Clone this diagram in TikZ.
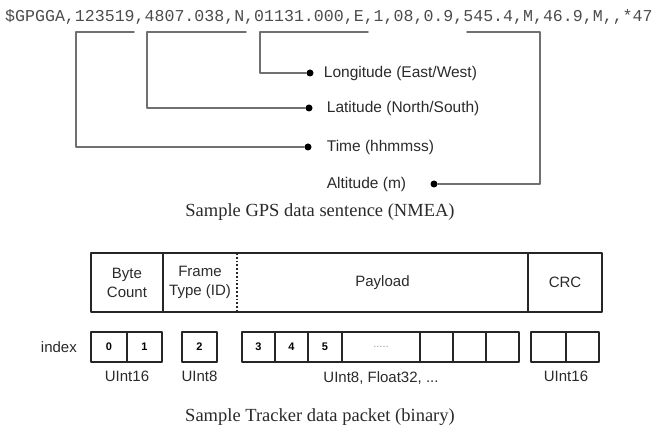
\documentclass[tikz,border=0pt]{standalone}
\usepackage{fontspec}
\setmainfont{Liberation Serif}
\setsansfont{Liberation Sans}
\setmonofont{Liberation Mono}
\usetikzlibrary{positioning}
\definecolor{linegray}{HTML}{707070}
\definecolor{txtgray}{HTML}{2A2A2A}
\begin{document}
\begin{tikzpicture}[x=1pt,y=-1pt, line join=round, line cap=round,
        lead/.style={draw=linegray, line width=1.6pt},
        dot/.style={circle, fill=black, inner sep=0pt, minimum size=7pt},
        lbl/.style={font=\sffamily\fontsize{15.5}{17}\selectfont, text=txtgray, inner sep=0pt},
        caption/.style={font=\fontsize{18.5}{20}\selectfont, text=txtgray, inner sep=0pt},
        field/.style={font=\sffamily\fontsize{15}{19}\selectfont, text=txtgray, align=center,
            inner sep=0pt, outer sep=0pt, minimum height=59pt},
        frame/.style={line width=1.8pt, draw=black!85},
        cell/.style={draw=black!85, line width=1.8pt, inner sep=0pt, outer sep=0pt,
            minimum width=#1, minimum height=30pt, font=\sffamily\bfseries\fontsize{11}{11}\selectfont},
        cell/.default=33pt,
        kind/.style={font=\sffamily\fontsize{15}{16}\selectfont, text=txtgray, inner sep=0pt}]
        \useasboundingbox (0,0) rectangle (657,425);
        \node[anchor=base west, inner sep=0pt, text=black!70, font=\ttfamily\fontsize{16.6}{17}\selectfont] (nmea) at (5,22)
            {\$GPGGA,123519,4807.038,N,01131.000,E,1,08,0.9,545.4,M,46.9,M,,*47};
        \coordinate (tma) at (134,32); \coordinate (tmb) at (76,32);
        \coordinate (lta) at (246,32); \coordinate (ltb) at (147,32);
        \coordinate (lna) at (368,32); \coordinate (lnb) at (260,32);
        \coordinate (ala) at (467,32); \coordinate (alb) at (540,32);
        \node[dot] (londot) at (310,73) {};
        \node[dot] (latdot) at (309,108) {};
        \node[dot] (timedot) at (308,147) {};
        \node[dot] (altdot) at (434,184) {};
        \node[lbl, right=10pt of londot] (lon) {Longitude (East/West)};
        \node[lbl, right=14pt of latdot] (lat) {Latitude (North/South)};
        \node[lbl, right=15pt of timedot] (time) {Time (hhmmss)};
        \node[lbl, left=24pt of altdot] (alt) {Altitude (m)};
        \draw[lead] (tma) -- (tmb) |- (timedot);
        \draw[lead] (lta) -- (ltb) |- (latdot);
        \draw[lead] (lna) -- (lnb) |- (londot);
        \draw[lead] (ala) -- (alb) |- (altdot);
        \node[caption] (cap1) at (320,212) {Sample GPS data sentence (NMEA)};

        \node[field, minimum width=72pt] (bc) at (127,282.5) {Byte\\Count};
        \node[field, minimum width=74pt, right=0pt of bc] (ft) {Frame\\Type (ID)};
        \node[field, minimum width=291pt, right=0pt of ft] (pl) {Payload};
        \node[field, minimum width=74pt, right=0pt of pl] (crc) {CRC};
        \draw[frame] (bc.north west) rectangle (crc.south east);
        \draw[frame] (bc.north east) -- (bc.south east);
        \draw[frame, dotted, line cap=butt] (ft.north east) -- (ft.south east);
        \draw[frame] (pl.north east) -- (pl.south east);

        \node[cell=36pt] (c0) at (109,347) {0};
        \node[cell=35pt, right=0pt of c0] (c1) {1};
        \node[cell=35pt] (c2) at (199.5,347) {2};
        \node[cell] (c3) at (258.5,347) {3};
        \node[cell, right=0pt of c3] (c4) {4};
        \node[cell=34pt, right=0pt of c4] (c5) {5};
        \node[cell=78pt, right=0pt of c5, font=\sffamily\fontsize{11}{11}\selectfont, text=black!40] (c6) {.....};
        \node[cell, right=0pt of c6] (c7) {};
        \node[cell, right=0pt of c7] (c8) {};
        \node[cell, right=0pt of c8] (c9) {};
        \node[cell=35pt] (c10) at (548.5,347) {};
        \node[cell, right=0pt of c10] (c11) {};
        \node[kind, left=14pt of c0] (idx) {index};
        \node[kind, below=9pt of c0.south east] (k16a) {UInt16};
        \node[kind, below=9pt of c2] (k8) {UInt8};
        \node[kind, below=9pt of c6] (kpl) {UInt8, Float32, ...};
        \node[kind, below=9pt of c10.south east] (k16b) {UInt16};
        \node[caption] (cap2) at (320,417) {Sample Tracker data packet (binary)};
\end{tikzpicture}
\end{document}
